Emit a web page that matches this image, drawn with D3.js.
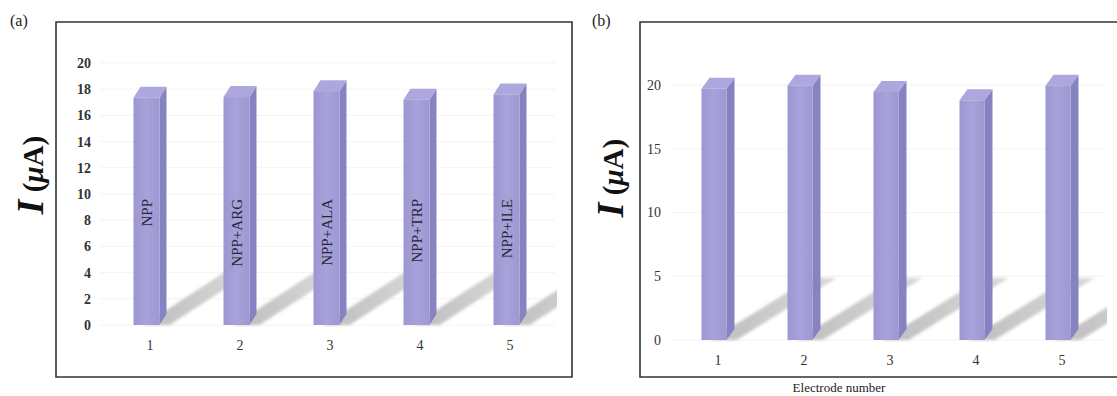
<!DOCTYPE html>
<html>
<head>
<meta charset="utf-8">
<script src="https://cdn.jsdelivr.net/npm/d3@7"></script>
<style>
  body { margin: 0; background: #fff; }
  svg { display: block; font-family: "Liberation Serif", "Times New Roman", serif; }
  svg text { font-family: "Liberation Serif", "Times New Roman", serif; }
</style>
</head>
<body>
<svg id="chart" width="1117" height="396"></svg>
<script>
// panel (a): current for NPP and NPP + amino acids
const catsA = ["1", "2", "3", "4", "5"];
const valsA = [17.35, 17.4, 17.85, 17.2, 17.6];
const barLabelsA = ["NPP", "NPP+ARG", "NPP+ALA", "NPP+TRP", "NPP+ILE"];
const ticksA = [0, 2, 4, 6, 8, 10, 12, 14, 16, 18, 20];

// panel (b): reproducibility over 5 electrodes
const catsB = ["1", "2", "3", "4", "5"];
const valsB = [19.7, 19.95, 19.45, 18.8, 19.95];
const ticksB = [0, 5, 10, 15, 20];

const svg = d3.select("#chart");
const defs = svg.append("defs");

const front = defs.append("linearGradient").attr("id", "front").attr("x1", 0).attr("x2", 1);
front.append("stop").attr("offset", 0).attr("stop-color", "#9c97d0");
front.append("stop").attr("offset", 0.5).attr("stop-color", "#a7a2da");
front.append("stop").attr("offset", 1).attr("stop-color", "#9d98d2");

const shade = defs.append("linearGradient").attr("id", "shade").attr("x1", 0).attr("x2", 1);
shade.append("stop").attr("offset", 0).attr("stop-color", "#bdbdbd");
shade.append("stop").attr("offset", 1).attr("stop-color", "#dadada");

defs.append("filter").attr("id", "soft").attr("x", "-10%").attr("y", "-10%")
  .attr("width", "120%").attr("height", "120%")
  .append("feGaussianBlur").attr("stdDeviation", 1.6);

function panel(o) {
  const g = svg.append("g");
  const x = d3.scaleBand().domain(o.cats).range(o.xr).paddingInner(0).paddingOuter(0);
  const y = d3.scaleLinear().domain([0, 20]).range(o.yr);
  const y0 = y(0);

  defs.append("clipPath").attr("id", o.id + "clip").append("rect")
    .attr("x", o.xr[0] - 10).attr("y", 0).attr("width", o.xr[1] - o.xr[0] + 12).attr("height", 400);

  // faint gridlines
  g.append("g").selectAll("line").data(o.ticks).join("line")
    .attr("x1", o.xr[0] - 5).attr("x2", o.xr[1])
    .attr("y1", d => y(d)).attr("y2", d => y(d))
    .attr("stroke", "#f3f3f3").attr("stroke-width", 1);

  const fw = o.fw, dx = o.dx, dy = o.dy;
  const bx = d => x(d) + (x.bandwidth() - fw - dx) / 2;

  // shadows
  g.append("g").attr("clip-path", `url(#${o.id}clip)`)
    .append("g").attr("filter", "url(#soft)")
    .selectAll("polygon").data(o.cats).join("polygon")
    .attr("points", d => {
      const a = bx(d) + fw - o.sw, b = bx(d) + fw + 10, L = o.sl, s = o.slope;
      return [[a, y0], [b, y0], [b + L, y0 - s * L], [a + L, y0 - s * L]].join(" ");
    })
    .attr("fill", "url(#shade)");

  const bars = g.append("g").selectAll("g").data(o.vals).join("g");
  bars.append("polygon") // side
    .attr("points", (v, i) => {
      const r = bx(o.cats[i]) + fw;
      return [[r, y(v)], [r + dx, y(v) - dy], [r + dx, y0 - dy], [r, y0]].join(" ");
    })
    .attr("fill", "#8782c1");
  bars.append("polygon") // top
    .attr("points", (v, i) => {
      const l = bx(o.cats[i]);
      return [[l, y(v)], [l + fw, y(v)], [l + fw + dx, y(v) - dy], [l + dx, y(v) - dy]].join(" ");
    })
    .attr("fill", "#aca7dc");
  bars.append("rect") // front
    .attr("x", (v, i) => bx(o.cats[i]))
    .attr("y", v => y(v))
    .attr("width", fw)
    .attr("height", v => y0 - y(v))
    .attr("fill", "url(#front)");

  if (o.barLabels) {
    g.append("g").selectAll("text").data(o.barLabels).join("text")
      .attr("transform", (t, i) => `translate(${bx(o.cats[i]) + fw / 2 + 5},${o.labelTop}) rotate(-90)`)
      .attr("text-anchor", "end")
      .style("font-size", "15px").style("fill", "#262636")
      .text(t => t);
  }

  // y axis
  g.append("g").attr("transform", `translate(${o.yTickX},0)`)
    .call(d3.axisLeft(y).tickValues(o.ticks).tickSize(0).tickPadding(0))
    .call(ax => {
      ax.attr("font-family", null).attr("font-size", null);
      ax.select(".domain").remove();
      ax.selectAll(".tick text")
        .style("font-size", "14px").style("font-weight", o.tickWeight).style("fill", "#333");
    });

  // x labels
  g.append("g").selectAll("text").data(o.cats).join("text")
    .attr("x", d => x(d) + x.bandwidth() / 2)
    .attr("y", o.xLabelY)
    .attr("text-anchor", "middle")
    .style("font-size", "14px").style("fill", "#333")
    .text(d => d);

  // y title
  const t = g.append("text")
    .attr("transform", `translate(${o.titleX},${o.titleY}) rotate(-90)`)
    .attr("text-anchor", "middle")
    .style("font-weight", "bold").style("fill", "#111");
  t.append("tspan").style("font-style", "italic").style("font-size", "38px").text("I");
  t.append("tspan").style("font-size", "29px").text(" (");
  t.append("tspan").style("font-size", "29px").style("font-style", "italic").text("μ");
  t.append("tspan").style("font-size", "29px").text("A)");

  // frame
  g.append("path")
    .attr("d", o.frame)
    .attr("fill", "none").attr("stroke", "#333").attr("stroke-width", 1.6);

  svg.append("text").attr("x", o.tagX).attr("y", 26)
    .style("font-size", "16px").style("fill", "#222").text(o.tag);
}

panel({
  id: "a", cats: catsA, vals: valsA, ticks: ticksA, barLabels: barLabelsA,
  xr: [105, 555], yr: [325, 63], fw: 26, dx: 7, dy: 11,
  sw: 16, sl: 80, slope: 0.65, labelTop: 199,
  yTickX: 91, tickWeight: "bold", xLabelY: 350,
  titleX: 43, titleY: 175,
  frame: "M56,22H572V377H56Z", tag: "(a)", tagX: 10
});

panel({
  id: "b", cats: catsB, vals: valsB, ticks: ticksB,
  xr: [675, 1105], yr: [340, 85], fw: 25, dx: 8, dy: 11,
  sw: 16, sl: 100, slope: 0.62,
  yTickX: 661, tickWeight: "normal", xLabelY: 365,
  titleX: 623, titleY: 178,
  frame: "M1120,22H640V377H1120", tag: "(b)", tagX: 592
});

svg.append("text").attr("x", 839).attr("y", 392).attr("text-anchor", "middle")
  .style("font-size", "13px").style("fill", "#222").text("Electrode number");
</script>
</body>
</html>
